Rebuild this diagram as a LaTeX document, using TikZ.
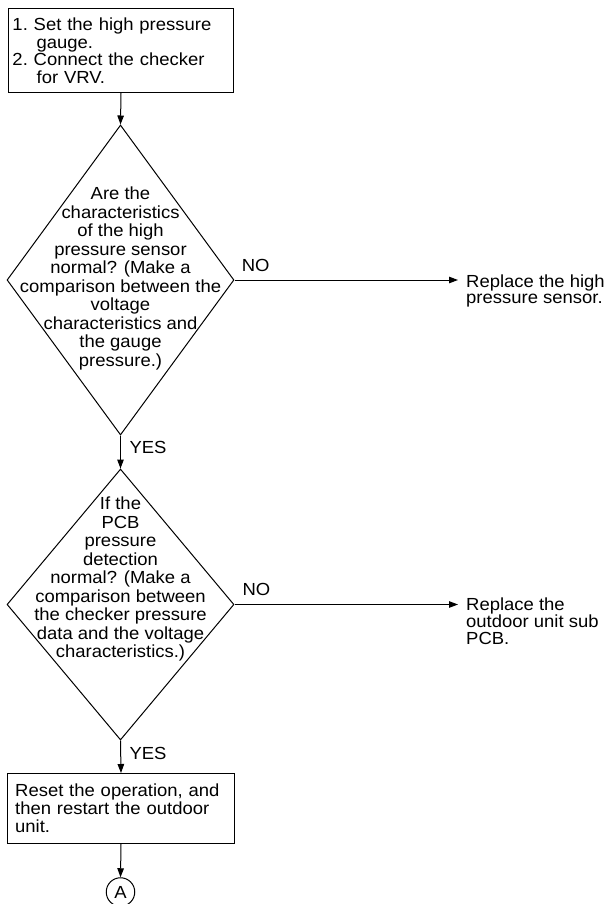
\documentclass[tikz,border=0pt]{standalone}
\usepackage{fontspec}
\setmainfont{Liberation Sans}[FakeStretch=1.055]
\usetikzlibrary{arrows.meta,shapes.geometric}
\tikzset{
  every node/.style={inner sep=0pt, font=\fontsize{17.5}{17.5}\selectfont},
  box/.style={draw, line width=1pt, rectangle, align=left, anchor=north west, inner ysep=0pt},
  diam/.style={draw, line width=1pt, diamond, inner sep=0pt},
  dtext/.style={align=center, anchor=north, font=\fontsize{17.5}{18.5}\selectfont},
  side/.style={align=left, anchor=north west, inner xsep=8pt, inner ysep=0pt},
  lbl/.style={anchor=base west},
  arr/.style={line width=1pt, -{Triangle[length=9pt,width=6.5pt]}},
  link/.style={line width=1pt}
}
\begin{document}
\begin{tikzpicture}[x=1pt,y=-1pt]
\useasboundingbox (0,0) rectangle (609,904);
% top box
\node[box, minimum width=225pt, minimum height=84pt, text width=217pt, inner xsep=4pt] (b1) at (8,8)
  {1.~Set the high pressure\\\hphantom{1.~\,}gauge.\\2.~Connect the checker\\\hphantom{2.~\,}for VRV.};
% diamond 1
\node[diam, minimum width=227pt, minimum height=310pt] (d1) at (120.5,280) {};
\node[dtext] (t1) at (120.5,186.7) {Are the\\characteristics\\of the high\\pressure sensor\\normal? (Make a\\comparison between the\\voltage\\characteristics and\\the gauge\\pressure.)};
% diamond 2
\node[diam, minimum width=227pt, minimum height=271pt] (d2) at (120.5,604.5) {};
\node[dtext] (t2) at (120.5,496.7) {If the\\PCB\\pressure\\detection\\normal? (Make a\\comparison between\\the checker pressure\\data and the voltage\\characteristics.)};
% bottom box
\node[box, minimum width=227pt, minimum height=70pt, text width=211.6pt, inner xsep=7.7pt, font=\fontsize{17.5}{18}\selectfont] (b3) at (7,773)
  {Reset the operation, and\\then restart the outdoor\\unit.};
% connector A
\node[draw, circle, line width=1pt, minimum size=28.5pt] (A) at (120.5,892) {A};
% side results
\node[side, font=\fontsize{17.5}{16}\selectfont] (r1) at (458,275) {Replace the high\\pressure sensor.};
\node[side, font=\fontsize{17.5}{16.7}\selectfont] (r2) at (458,598) {Replace the\\outdoor unit sub\\PCB.};
% labels
\node[lbl] (no1) at (241.7,271.7) {NO};
\node[lbl] (no2) at (242.3,595) {NO};
\node[lbl] (yes1) at (129.3,453.3) {YES};
\node[lbl] (yes2) at (129.3,759) {YES};
% connectors
\draw[arr] (b1.south) -- (d1.north);
\draw[arr] (d1.south) -- (d2.north);
\draw[arr] (d2.south) -- (b3.north);
\draw[arr] (b3.south) -- (A.north);
\draw[arr] (d1.east) -- (d1.east -| r1.west);
\draw[arr] (d2.east) -- (d2.east -| r2.west);
\end{tikzpicture}
\end{document}
